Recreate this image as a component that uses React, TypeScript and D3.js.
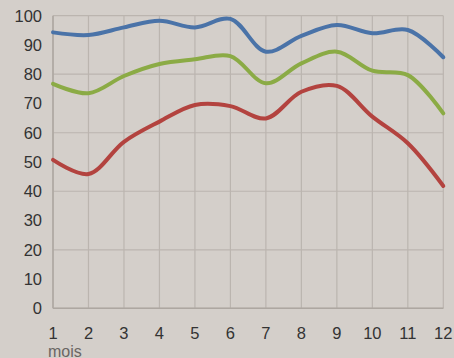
import React from "react";
import * as d3 from "d3";

const months = [1, 2, 3, 4, 5, 6, 7, 8, 9, 10, 11, 12];
const blue = [94.3, 93.4, 96, 98.3, 96, 98.9, 87.7, 93.1, 96.8, 94, 95.1, 85.8];
const green = [76.7, 73.5, 79.4, 83.5, 85.1, 86.2, 76.9, 83.7, 87.7, 81.2, 79.7, 66.6];
const red = [50.7, 45.9, 56.9, 63.8, 69.5, 69.1, 64.9, 74, 76, 65.5, 56.4, 41.8];
const yTicks = [0, 10, 20, 30, 40, 50, 60, 70, 80, 90, 100];
const yGrid = [0, 20, 40, 60, 80, 100];
const xLabel = "mois";

const series = [
  { name: "blue", values: blue, color: "#4a73a8" },
  { name: "green", values: green, color: "#8bab45" },
  { name: "red", values: red, color: "#b3433f" },
];

export default function App() {
  const W = 454, H = 358;
  const x = d3.scaleLinear().domain([1, 12]).range([53, 443.3]);
  const y = d3.scaleLinear().domain([0, 100]).range([308.3, 15.7]);
  const line = d3
    .line<number>()
    .x((_, i) => x(months[i]))
    .y((d) => y(d))
    .curve(d3.curveCatmullRom.alpha(0.5));
  const font = "'Liberation Sans', Arial, sans-serif";
  return (
    <svg width={W} height={H} style={{ position: "absolute", left: 0, top: 0, display: "block" }}>
      <rect width={W} height={H} fill="#d4cfca" />
      {months.map((m) => (
        <line key={"vx" + m} x1={x(m)} x2={x(m)} y1={y(100)} y2={y(0)} stroke="#bbb5af" strokeWidth={1.2} />
      ))}
      {yGrid.map((t) => (
        <line key={"hy" + t} x1={x(1)} x2={x(12)} y1={y(t)} y2={y(t)} stroke="#bbb5af" strokeWidth={1.2} />
      ))}
      <line x1={x(1)} x2={x(1)} y1={y(100)} y2={y(0)} stroke="#ada7a1" strokeWidth={1.5} />
      <line x1={x(1)} x2={x(12)} y1={y(0)} y2={y(0)} stroke="#ada7a1" strokeWidth={1.5} />
      {series.map((s) => (
        <path key={s.name} d={line(s.values) || ""} fill="none" stroke={s.color} strokeWidth={4} strokeLinecap="round" />
      ))}
      {yTicks.map((t) => (
        <text key={"yt" + t} x={42} y={y(t)} dy="0.36em" textAnchor="end" fontFamily={font} fontSize={16.5} fill="#333">
          {t}
        </text>
      ))}
      {months.map((m) => (
        <text key={"xt" + m} x={x(m)} y={333} dy="0.36em" textAnchor="middle" fontFamily={font} fontSize={16.5} fill="#333">
          {m}
        </text>
      ))}
      <text x={48} y={351} dy="0.36em" fontFamily={font} fontSize={16} fill="#6a6663">
        {xLabel}
      </text>
    </svg>
  );
}
